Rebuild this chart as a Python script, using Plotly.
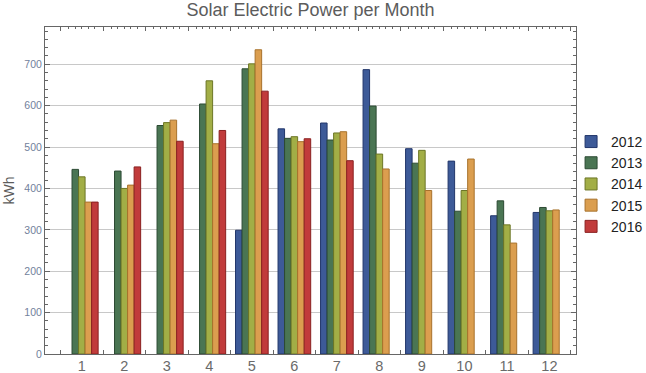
import plotly.graph_objects as go

months = list(range(1, 13))
month_labels = [str(m) for m in months]
years = ["2012", "2013", "2014", "2015", "2016"]

kwh_2012 = [None, None, None, None, 299, 544, 558, 687, 496, 466, 334, 342]
kwh_2013 = [446, 442, 552, 604, 689, 521, 517, 599, 461, 345, 370, 354]
kwh_2014 = [428, 400, 559, 660, 701, 525, 534, 483, 492, 395, 312, 346]
kwh_2015 = [367, 408, 565, 508, 735, 513, 537, 447, 395, 471, 268, 348]
kwh_2016 = [367, 452, 514, 540, 635, 520, 467, None, None, None, None, None]

series = [kwh_2012, kwh_2013, kwh_2014, kwh_2015, kwh_2016]
fills = ["#3D5A98", "#4A7553", "#A2AE46", "#DB9E4F", "#C13B3B"]
edges = ["#22366A", "#2C4A33", "#6C7626", "#A8722C", "#8A2020"]

bargap = 0.232
n = len(years)
w = (1 - bargap) / n

fig = go.Figure()
for name, vals, fc, ec in zip(years, series, fills, edges):
    fig.add_trace(go.Bar(
        x=months, y=vals, name=name,
        marker=dict(color=fc, line=dict(color=ec, width=1)),
    ))

xr = [0.134, 12.625]
boundaries = [m + 0.5 for m in range(0, 13)]
bar_centers = [m + (j - (n - 1) / 2) * w for m in months for j in range(n)]

# invisible helper trace so the top axis is drawn
fig.add_trace(go.Scatter(x=[], y=[], xaxis="x2", showlegend=False, hoverinfo="skip"))

fig.update_layout(
    width=646, height=373,
    margin=dict(l=45, r=70, t=27, b=19, autoexpand=False),
    paper_bgcolor="white", plot_bgcolor="white",
    barmode="group", bargap=bargap, bargroupgap=0,
    font=dict(family="Liberation Sans, Arial, sans-serif"),
    title=dict(text="Solar Electric Power per Month", x=0.5, xref="paper", xanchor="center",
               yref="container", y=1.0, yanchor="top", pad=dict(t=3, b=0),
               font=dict(size=18, color="#5C5C5C")),
    xaxis=dict(
        range=xr, tickmode="array", tickvals=months, ticktext=month_labels,
        ticks="", ticklen=0, ticklabelstandoff=-1, showgrid=False, zeroline=False, automargin=False,
        showline=True, linecolor="#666666", linewidth=1, mirror=True,
        tickfont=dict(size=14.5, color="#6A6A6A"),
        minor=dict(tickmode="array", tickvals=boundaries, ticks="inside", ticklen=4,
                   tickcolor="#666666", showgrid=False),
    ),
    xaxis2=dict(
        range=xr, overlaying="x", side="top", anchor="y", automargin=False,
        tickmode="array", tickvals=boundaries, ticks="inside", ticklen=4, tickcolor="#666666",
        showticklabels=False, showgrid=False, zeroline=False, showline=False,
        minor=dict(tickmode="array", tickvals=bar_centers, ticks="inside", ticklen=2,
                   tickcolor="#666666", showgrid=False),
    ),
    yaxis=dict(
        range=[0, 790], tick0=0, dtick=100, ticks="inside", ticklen=5, tickcolor="#666666",
        showgrid=True, gridcolor="#C8C8C8", gridwidth=1, zeroline=False, automargin=False,
        showline=True, linecolor="#666666", linewidth=1, mirror="ticks",
        tickfont=dict(size=10.5, color="#72819C"),
        title=dict(text="kWh", font=dict(size=14, color="#5C5C5C"), standoff=6),
        minor=dict(dtick=20, ticks="inside", ticklen=3, tickcolor="#666666", showgrid=False),
    ),
    legend=dict(xref="container", x=0.884, xanchor="left", y=0.52, yanchor="middle",
                font=dict(size=14, color="#222222"), bgcolor="rgba(0,0,0,0)",
                tracegroupgap=0),
)

fig.write_html("out.html", config={"displayModeBar": False},
               post_script="document.body.style.margin='0px';")
